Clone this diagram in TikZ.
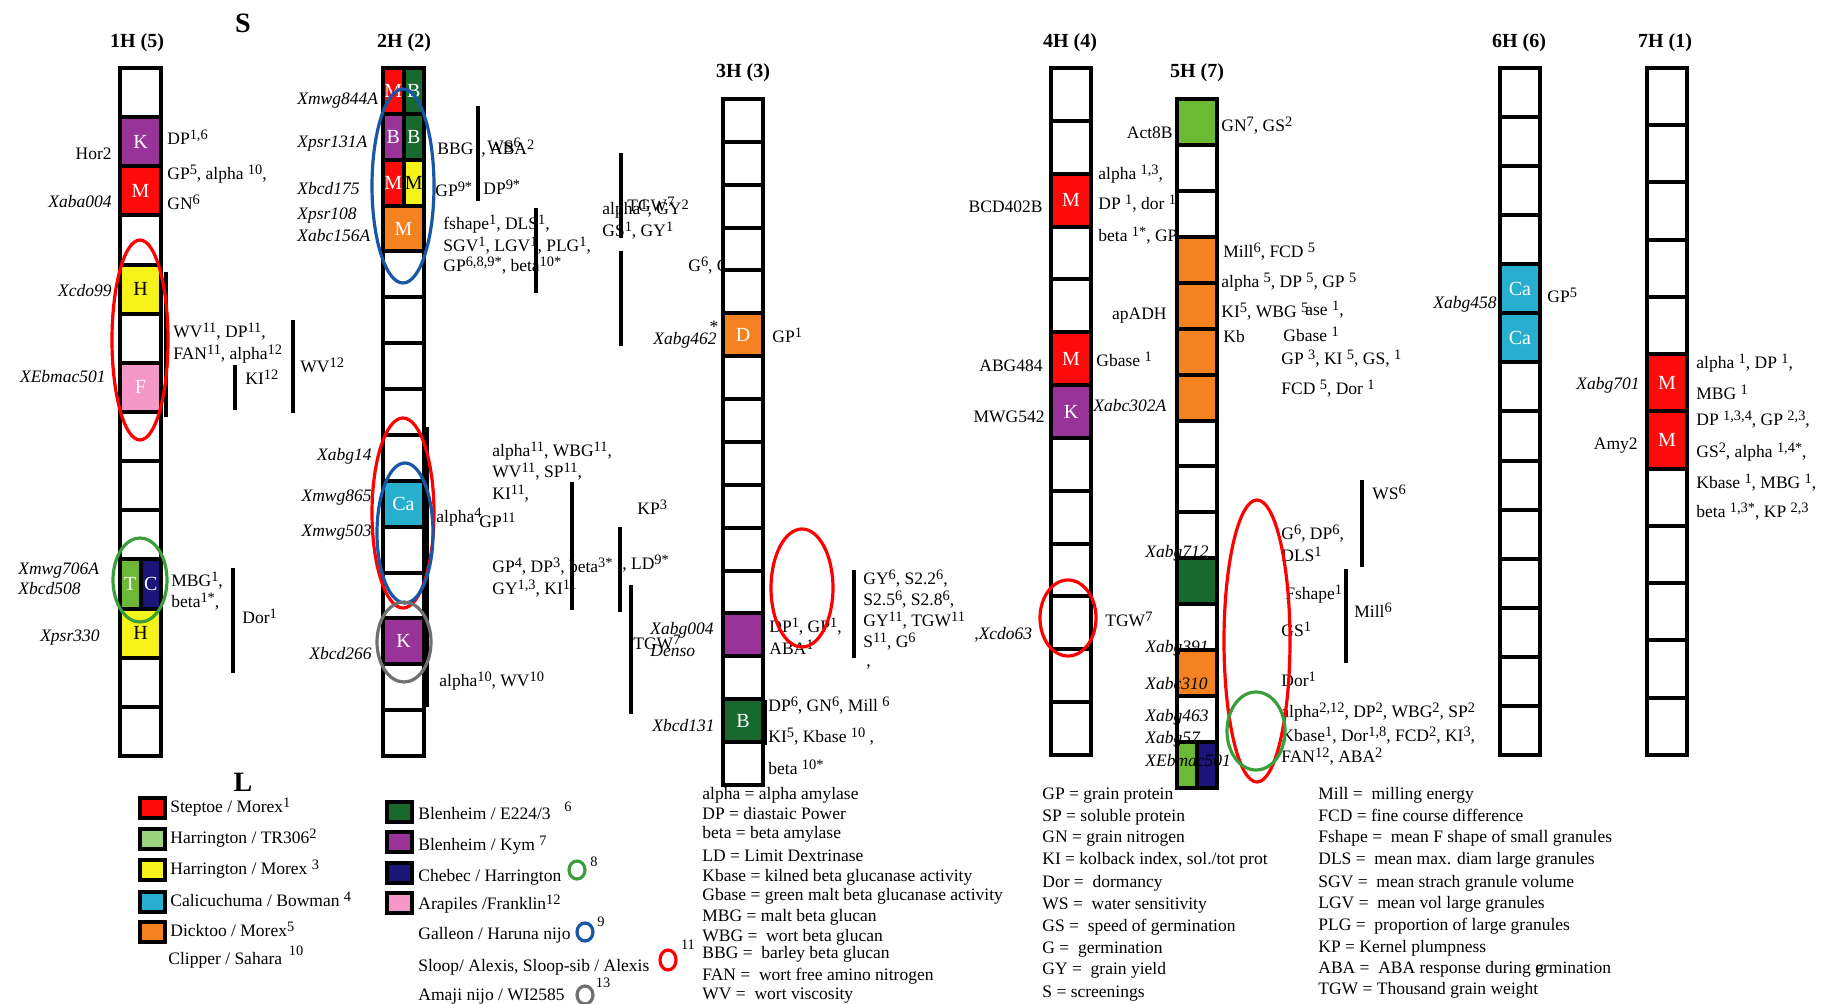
\documentclass[tikz,border=0pt]{standalone}
\usepackage{fontspec}
\setmainfont{Liberation Serif}

% cell colours
\definecolor{cmred}{HTML}{FF0A0A}
\definecolor{cmpurple}{HTML}{993399}
\definecolor{cmyellow}{HTML}{F5F31A}
\definecolor{cmpink}{HTML}{F598C8}
\definecolor{cmlgreen}{HTML}{6BB934}
\definecolor{cmpale}{HTML}{9CD47E}
\definecolor{cmnavy}{HTML}{1C1578}
\definecolor{cmdkgreen}{HTML}{17692E}
\definecolor{cmcyan}{HTML}{28AFCF}
\definecolor{cmorange}{HTML}{F58220}
% ring colours
\definecolor{ringred}{HTML}{FF0000}
\definecolor{ringgreen}{HTML}{3A9E3A}
\definecolor{ringblue}{HTML}{1757A6}
\definecolor{ringgray}{HTML}{707070}

\newcommand{\lbl}{\fontsize{8.75}{10}\selectfont}
\newcommand{\su}[1]{\raisebox{2.6pt}{\fontsize{7.2}{8}\selectfont #1}}

\tikzset{
  cellline/.style={draw=black, line width=2pt},
  cellchar/.style={text=white, inner sep=0pt, font=\fontsize{10}{12}\selectfont},
  trait/.style={inner sep=0pt, anchor=mid west, font=\lbl},
  mkr/.style={inner sep=0pt, anchor=mid east, font=\lbl\itshape},
  mkrl/.style={inner sep=0pt, anchor=mid west, font=\lbl\itshape},
  mkup/.style={inner sep=0pt, anchor=mid east, font=\lbl},
  chrname/.style={inner sep=0pt, font=\fontsize{10}{12}\selectfont\bfseries},
  bar/.style={line width=1.6pt},
  ring/.style={line width=1.6pt, draw=#1},
  swatch/.style={line width=1.8pt, draw=black},
  legring/.style={line width=1.6pt, draw=#1},
}

% one coloured cell (uses \cellw, \cellh, \chr of the scope)
\newcommand{\block}[4][white]{%
  \fill[#3] (0,{(#2-1)*\cellh}) rectangle (\cellw,{#2*\cellh});
  \node[cellchar,text=#1] (\chr-#2) at ({\cellw/2},{(#2-0.5)*\cellh}) {#4};}
% a cell split in two colours
\newcommand{\halves}[6][white]{%
  \fill[#3] (0,{(#2-1)*\cellh}) rectangle ({\cellw/2},{#2*\cellh});
  \fill[#5] ({\cellw/2},{(#2-1)*\cellh}) rectangle (\cellw,{#2*\cellh});
  \draw[cellline] ({\cellw/2},{(#2-1)*\cellh}) -- ({\cellw/2},{#2*\cellh});
  \node[cellchar] (\chr-#2l) at ({\cellw/4},{(#2-0.5)*\cellh}) {#4};
  \node[cellchar,text=#1] (\chr-#2r) at ({3*\cellw/4},{(#2-0.5)*\cellh}) {#6};}
\newcommand{\cellgrid}[1]{%
  \foreach \cc in {1,...,#1}
    {\draw[cellline] (0,{(\cc-1)*\cellh}) rectangle (\cellw,{\cc*\cellh});}}
\newcommand{\chrbase}[1]{\fill[white] (0,0) rectangle (\cellw,{#1*\cellh});}

\begin{document}
\begin{tikzpicture}[x=0.5pt, y=-0.5pt]
\useasboundingbox (0,0) rectangle (1821,1004);
\fill[white] (0,0) rectangle (1821,1004);

% headings
\node[font=\fontsize{14}{16}\selectfont\bfseries] (sS) at (243,23) {S};
\node[chrname] (t1H) at (137,43) {1H (5)};
\node[chrname] (t2H) at (404,43) {2H (2)};
\node[chrname] (t3H) at (743,73) {3H (3)};
\node[chrname] (t4H) at (1070,43) {4H (4)};
\node[chrname] (t5H) at (1197,73) {5H (7)};
\node[chrname] (t6H) at (1519,43) {6H (6)};
\node[chrname] (t7H) at (1665,43) {7H (1)};

% ---------------- 1H
\begin{scope}[shift={(120,68)}]
  \def\cellw{41}\def\cellh{49.14}\def\chr{a}
  \chrbase{14}
  \block{2}{cmpurple}{K}
  \block{3}{cmred}{M}
  \block[black]{5}{cmyellow}{H}
  \block{7}{cmpink}{F}
  \halves{11}{cmlgreen}{T}{cmnavy}{C}
  \block[black]{12}{cmyellow}{H}
  \cellgrid{14}
\end{scope}
\node[mkup] (hor2) at (112,155) {Hor2};
\node[mkr] (xaba004) at (112,203) {Xaba004};
\node[mkr] (xcdo99) at (112,292) {Xcdo99};
\node[mkr] (xebmaca) at (106,378) {XEbmac501};
\node[mkrl] (xmwg706) at (18,570) {Xmwg706A};
\node[mkrl] (xbcd508) at (18,590) {Xbcd508};
\node[mkr] (xpsr330) at (100,637) {Xpsr330};
\node[trait] (qa1) at (167,140) {DP\su{1,6}};
\node[trait] (qa2) at (167,175) {GP\su5, alpha \su{10},};
\node[trait] (qa3) at (167,205) {GN\su6};
\draw[bar] (166,272) -- (166,417);
\node[trait] (qa4) at (173,333) {WV\su{11}, DP\su{11},};
\node[trait] (qa5) at (173,355) {FAN\su{11}, alpha\su{12}};
\draw[bar] (235,365) -- (235,410);
\node[trait] (qa6) at (245,380) {KI\su{12}};
\draw[bar] (293,320) -- (293,413);
\node[trait] (qa7) at (300,368) {WV\su{12}};
\node[trait] (qa8) at (171,582) {MBG\su1,};
\node[trait] (qa9) at (171,603) {beta\su{1*},};
\draw[bar] (233,568) -- (233,673);
\node[trait] (qa10) at (242,619) {Dor\su1};
\draw[ring=ringred] (140,340) ellipse [x radius=28, y radius=100];
\draw[ring=ringgreen] (140,580) ellipse [x radius=27, y radius=42];

% ---------------- 2H
\begin{scope}[shift={(383,68)}]
  \def\cellw{41}\def\cellh{45.87}\def\chr{b}
  \chrbase{15}
  \halves{1}{cmred}{M}{cmdkgreen}{B}
  \halves{2}{cmpurple}{B}{cmdkgreen}{B}
  \halves[black]{3}{cmred}{M}{cmyellow}{M}
  \block{4}{cmorange}{M}
  \block{10}{cmcyan}{Ca}
  \block{13}{cmpurple}{K}
  \cellgrid{15}
\end{scope}
\draw[bar] (427,427) -- (427,707);
\node[mkrl] (xmwg844) at (297,100) {Xmwg844A};
\node[mkrl] (xpsr131) at (297,143) {Xpsr131A};
\node[mkrl] (xbcd175) at (297,190) {Xbcd175};
\node[mkrl] (xpsr108) at (297,215) {Xpsr108};
\node[mkrl] (xabc156) at (297,237) {Xabc156A};
\node[mkr] (xabg14) at (372,456) {Xabg14};
\node[mkr] (xmwg865) at (372,497) {Xmwg865};
\node[mkr] (xmwg503) at (372,532) {Xmwg503};
\node[mkr] (xbcd266) at (372,655) {Xbcd266};
\node[trait] (qb1) at (437,150) {BBG};
\draw[bar] (478,106) -- (478,201);
\node[trait] (qb2) at (481,150) {, ABA\su2};
\node[trait] (qb3) at (487,148) {WS\su6};
\node[trait] (qb4) at (435,192) {GP\su{9*}};
\node[trait] (qb5) at (483,190) {DP\su{9*}};
\node[trait] (qb6) at (443,225) {fshape\su1, DLS\su1,};
\node[trait] (qb7) at (443,247) {SGV\su1, LGV\su1, PLG\su1,};
\node[trait] (qb8) at (443,267) {GP\su{6,8,9*}, beta\su{10*}};
\draw[bar] (536,208) -- (536,293);
\node[trait] (qb9) at (602,210) {alpha\su1, GY\su2};
\node[trait] (qb10) at (627,207) {TGW\su7};
\node[trait] (qb11) at (602,232) {GS\su1, GY\su1};
\draw[bar] (621,153) -- (621,238);
\draw[bar] (621,251) -- (621,346);
\node[trait] (qb12) at (436,518) {alpha\su4};
\node[trait] (qb13) at (479,523) {GP\su{11}};
\node[trait] (qb14) at (492,452) {alpha\su{11}, WBG\su{11},};
\node[trait] (qb15) at (492,473) {WV\su{11}, SP\su{11},};
\node[trait] (qb16) at (492,495) {KI\su{11},};
\draw[bar] (572,482) -- (572,610);
\node[trait] (qb17) at (492,568) {GP\su4, DP\su3, beta\su{3*}};
\node[trait] (qb18) at (492,590) {GY\su{1,3}, KI\su{11}};
\draw[bar] (620,527) -- (620,612);
\node[trait] (qb19) at (622,565) {, LD\su{9*}};
\node[trait] (qb20) at (637,510) {KP\su3};
\node[trait] (qb21) at (439,682) {alpha\su{10}, WV\su{10}};
\draw[ring=ringblue] (403,186) ellipse [x radius=31, y radius=97];
\draw[ring=ringred] (403,513) ellipse [x radius=31, y radius=95];
\draw[ring=ringblue] (405,533) ellipse [x radius=28, y radius=70];
\draw[ring=ringgray] (404,642) ellipse [x radius=27, y radius=40];

% ---------------- 3H
\node[trait] (qc1) at (688,267) {G\su6, GS\su6};
\begin{scope}[shift={(723,99)}]
  \def\cellw{40}\def\cellh{42.875}\def\chr{c}
  \chrbase{16}
  \block{6}{cmorange}{D}
  \block{13}{cmpurple}{}
  \block{15}{cmdkgreen}{B}
  \cellgrid{16}
\end{scope}
\node[mkr] (xabg462) at (717,340) {Xabg462};
\node[font=\lbl, inner sep=0pt] (xstar) at (714,327) {*};
\node[trait] (qc2) at (772,338) {GP\su1};
\node[mkrl] (xabg004) at (650,630) {Xabg004};
\node[mkrl] (denso) at (650,652) {Denso};
\node[trait] (qc3) at (633,645) {TGW\su7};
\draw[bar] (631,585) -- (631,714);
\node[trait] (qc4) at (769,628) {DP\su1, GP\su1,};
\node[trait] (qc5) at (769,650) {ABA\su1};
\draw[ring=ringred] (802,588) ellipse [x radius=31, y radius=59];
\draw[bar] (854,570) -- (854,658);
\node[trait] (qc6) at (863,580) {GY\su6, S2.2\su6,};
\node[trait] (qc7) at (863,601) {S2.5\su6, S2.8\su6,};
\node[trait] (qc8) at (863,622) {GY\su{11}, TGW\su{11}};
\node[trait] (qc9) at (863,643) {S\su{11}, G\su6};
\node[trait] (qc10) at (866,662) {,};
\node[trait] (qc11) at (974,635) {,\textit{Xcdo63}};
\node[trait] (qc12) at (768,707) {DP\su6, GN\su6, Mill \su6};
\node[trait] (qc13) at (768,738) {KI\su5, Kbase \su{10} ,};
\node[trait] (qc14) at (768,770) {beta \su{10*}};
\node[mkr] (xbcd131) at (715,727) {Xbcd131};
\draw[line width=0.6pt] (766,700) -- (766,745);

% ---------------- 4H
\begin{scope}[shift={(1051,68)}]
  \def\cellw{40}\def\cellh{52.85}\def\chr{d}
  \chrbase{13}
  \block{3}{cmred}{M}
  \block{6}{cmred}{M}
  \block{7}{cmpurple}{K}
  \cellgrid{13}
\end{scope}
\node[mkup] (bcd402) at (1043,208) {BCD402B};
\node[mkup] (abg484) at (1043,367) {ABG484};
\node[mkup] (mwg542) at (1045,418) {MWG542};
\node[trait] (qd1) at (1098,175) {alpha \su{1,3},};
\node[trait] (qd2) at (1098,205) {DP \su1, dor \su1};
\node[trait] (qd3) at (1098,237) {beta \su{1*}, GP\su1};
\node[trait] (qd4) at (1096,362) {Gbase \su1};
\node[mkrl] (xabc302) at (1093,407) {Xabc302A};
\node[trait] (qd5) at (1105,622) {TGW\su7};
\draw[ring=ringred] (1068,618) ellipse [x radius=28, y radius=38];

% ---------------- 5H
\begin{scope}[shift={(1177,99)}]
  \def\cellw{40}\def\cellh{45.93}\def\chr{e}
  \chrbase{15}
  \block{1}{cmlgreen}{}
  \block{4}{cmorange}{}
  \block{5}{cmorange}{}
  \block{6}{cmorange}{}
  \block{7}{cmorange}{}
  \block{11}{cmdkgreen}{}
  \block{13}{cmorange}{}
  \halves{15}{cmlgreen}{}{cmnavy}{}
\end{scope}
\node[mkrl] (xabg712) at (1145,553) {Xabg712};
\node[mkrl] (xabg391) at (1145,648) {Xabg391};
\node[mkrl] (xabc310) at (1145,685) {Xabc310};
\node[mkrl] (xabg463) at (1145,717) {Xabg463};
\node[mkrl] (xabg57) at (1145,739) {Xabg57};
\node[mkrl] (xebmacb) at (1145,762) {XEbmac501};
\begin{scope}[shift={(1177,99)}]
  \def\cellw{40}\def\cellh{45.93}
  \cellgrid{15}
\end{scope}
\node[mkup] (act8b) at (1173,134) {Act8B};
\node[mkup] (apadh) at (1167,315) {apADH};
\node[trait] (qe1) at (1221,127) {GN\su7, GS\su2};
\node[trait] (qe2) at (1223,253) {Mill\su6, FCD \su5};
\node[trait] (qe3) at (1221,283) {alpha \su5, DP \su5, GP \su5};
\node[trait] (qe4) at (1221,313) {KI\su5, WBG \su5};
\node[trait] (qe5) at (1305,311) {ase \su1,};
\node[trait] (qe6) at (1223,338) {Kb};
\node[trait] (qe7) at (1283,337) {Gbase \su1};
\node[trait] (qe8) at (1281,360) {GP \su3, KI \su5, GS, \su1};
\node[trait] (qe9) at (1281,390) {FCD \su5, Dor \su1};
\draw[bar] (1362,480) -- (1362,567);
\node[trait] (qe10) at (1372,495) {WS\su6};
\node[trait] (qe11) at (1281,535) {G\su6, DP\su6,};
\node[trait] (qe12) at (1281,557) {DLS\su1};
\node[trait] (qe13) at (1285,595) {Fshape\su1};
\draw[bar] (1346,569) -- (1346,663);
\node[trait] (qe14) at (1354,613) {Mill\su6};
\node[trait] (qe15) at (1281,632) {GS\su1};
\node[trait] (qe16) at (1281,682) {Dor\su1};
\node[trait] (qe17) at (1281,713) {alpha\su{2,12}, DP\su2, WBG\su2, SP\su2};
\node[trait] (qe18) at (1281,737) {Kbase\su1, Dor\su{1,8}, FCD\su2, KI\su3,};
\node[trait] (qe19) at (1281,758) {FAN\su{12}, ABA\su2};
\draw[ring=ringred] (1257,641) ellipse [x radius=33, y radius=141];
\draw[ring=ringgreen] (1256,731) ellipse [x radius=29, y radius=39];

% ---------------- 6H
\begin{scope}[shift={(1500,68)}]
  \def\cellw{40}\def\cellh{49.07}\def\chr{f}
  \chrbase{14}
  \block{5}{cmcyan}{Ca}
  \block{6}{cmcyan}{Ca}
  \cellgrid{14}
\end{scope}
\node[mkr] (xabg458) at (1497,304) {Xabg458};
\node[trait] (qf1) at (1547,298) {GP\su5};

% ---------------- 7H
\begin{scope}[shift={(1647,68)}]
  \def\cellw{40}\def\cellh{57.25}\def\chr{g}
  \chrbase{12}
  \block{6}{cmred}{M}
  \block{7}{cmred}{M}
  \cellgrid{12}
\end{scope}
\node[mkr] (xabg701) at (1640,385) {Xabg701};
\node[mkup] (amy2) at (1638,445) {Amy2};
\node[trait] (qg1) at (1696,364) {alpha \su1, DP \su1,};
\node[trait] (qg2) at (1696,395) {MBG \su1};
\node[trait] (qg3) at (1696,421) {DP \su{1,3,4}, GP \su{2,3},};
\node[trait] (qg4) at (1696,453) {GS\su2, alpha \su{1,4*},};
\node[trait] (qg5) at (1696,484) {Kbase \su1, MBG \su1,};
\node[trait] (qg6) at (1696,513) {beta \su{1,3*}, KP \su{2,3}};

% ---------------- legend of crosses
\node[font=\fontsize{14}{16}\selectfont\bfseries] (sL) at (243,782) {L};
\draw[swatch, fill=cmred] (140,798) rectangle (165,818);
\draw[swatch, fill=cmpale] (140,829) rectangle (165,849);
\draw[swatch, fill=cmyellow] (140,860) rectangle (165,880);
\draw[swatch, fill=cmcyan] (140,892) rectangle (165,912);
\draw[swatch, fill=cmorange] (140,922) rectangle (165,942);
\node[trait] (ka) at (170,808) {Steptoe / Morex\su1};
\node[trait] (kb) at (170,839) {Harrington / TR306\su2};
\node[trait] (kc) at (170,870) {Harrington / Morex \su3};
\node[trait] (kd) at (170,902) {Calicuchuma / Bowman \su4};
\node[trait] (ke) at (170,932) {Dicktoo / Morex\su5};
\node[trait] (kf) at (168,960) {Clipper / Sahara};
\node[font=\lbl, inner sep=0pt] (kf10) at (296,953) {\su{10}};

\draw[swatch, fill=cmdkgreen] (387,802) rectangle (412,822);
\draw[swatch, fill=cmpurple] (387,832) rectangle (412,852);
\draw[swatch, fill=cmnavy] (387,863) rectangle (412,883);
\draw[swatch, fill=cmpink] (387,893) rectangle (412,913);
\node[trait] (kg) at (418,815) {Blenheim / E224/3};
\node[font=\lbl, inner sep=0pt] (kg6) at (568,809) {\su6};
\node[trait] (kh) at (418,846) {Blenheim / Kym \su7};
\node[trait] (ki) at (418,877) {Chebec / Harrington};
\draw[legring=ringgreen] (577,870) ellipse [x radius=8, y radius=9];
\node[font=\lbl, inner sep=0pt] (ki8) at (594,864) {\su8};
\node[trait] (kj) at (418,905) {Arapiles /Franklin\su{12}};
\node[trait] (kk) at (418,935) {Galleon / Haruna nijo};
\draw[legring=ringblue] (585,932) ellipse [x radius=8, y radius=9];
\node[font=\lbl, inner sep=0pt] (kk9) at (601,924) {\su9};
\node[trait] (kl) at (418,967) {Sloop/ Alexis, Sloop-sib / Alexis};
\draw[legring=ringred] (668,960) ellipse [x radius=8, y radius=10];
\node[font=\lbl, inner sep=0pt] (kl11) at (688,947) {\su{11}};
\node[trait] (km) at (418,996) {Amaji nijo / WI2585};
\draw[legring=ringgray] (585,995) ellipse [x radius=8, y radius=9];
\node[font=\lbl, inner sep=0pt] (km13) at (603,985) {\su{13}};

% ---------------- abbreviations
\node[trait] (ab1) at (702,795) {alpha = alpha amylase};
\node[trait] (ab2) at (702,815) {DP = diastaic Power};
\node[trait] (ab3) at (702,834) {beta = beta amylase};
\node[trait] (ab4) at (702,857) {LD = Limit Dextrinase};
\node[trait] (ab5) at (702,877) {Kbase = kilned beta glucanase activity};
\node[trait] (ab6) at (702,896) {Gbase = green malt beta glucanase activity};
\node[trait] (ab7) at (702,917) {MBG = malt beta glucan};
\node[trait] (ab8) at (702,937) {WBG = \ wort beta glucan};
\node[trait] (ab9) at (702,954) {BBG = \ barley beta glucan};
\node[trait] (ab10) at (702,976) {FAN = \ wort free amino nitrogen};
\node[trait] (ab11) at (702,995) {WV = \ wort viscosity};

\node[trait] (ac1) at (1042,795) {GP = grain protein};
\node[trait] (ac2) at (1042,817) {SP = soluble protein};
\node[trait] (ac3) at (1042,838) {GN = grain nitrogen};
\node[trait] (ac4) at (1042,860) {KI = kolback index, sol./tot prot};
\node[trait] (ac5) at (1042,883) {Dor = \ dormancy};
\node[trait] (ac6) at (1042,905) {WS = \ water sensitivity};
\node[trait] (ac7) at (1042,927) {GS = \ speed of germination};
\node[trait] (ac8) at (1042,949) {G = \ germination};
\node[trait] (ac9) at (1042,970) {GY = \ grain yield};
\node[trait] (ac10) at (1042,993) {S = screenings};

\node[trait] (ad1) at (1318,795) {Mill = \ milling energy};
\node[trait] (ad2) at (1318,817) {FCD = fine course difference};
\node[trait] (ad3) at (1318,838) {Fshape = \ mean F shape of small granules};
\node[trait] (ad4) at (1318,860) {DLS = \ mean max. diam large granules};
\node[trait] (ad5) at (1318,883) {SGV = \ mean strach granule volume};
\node[trait] (ad6) at (1318,904) {LGV = \ mean vol large granules};
\node[trait] (ad7) at (1318,926) {PLG = \ proportion of large granules};
\node[trait] (ad8) at (1318,948) {KP = Kernel plumpness};
\node[trait] (ad9) at (1318,969) {ABA = \ ABA response during \rlap{g}ermination};
\node[trait] (ad10) at (1318,990) {TGW = Thousand grain weight};
\end{tikzpicture}
\end{document}
